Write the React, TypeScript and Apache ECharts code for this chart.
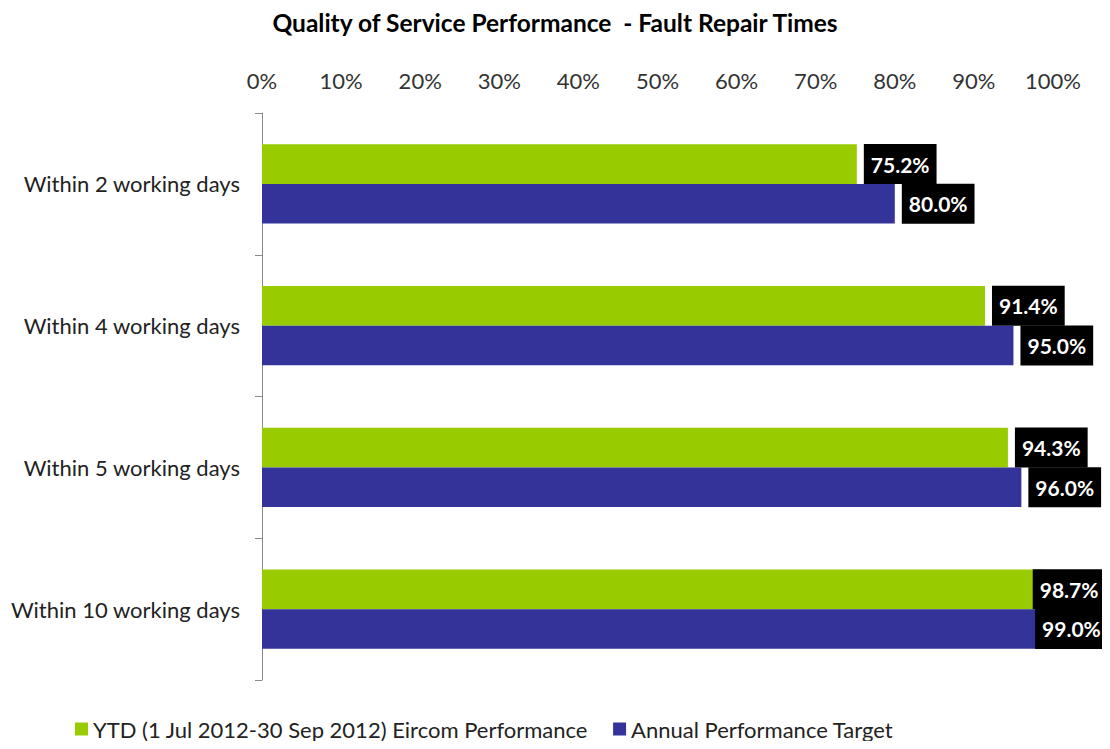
import React, { useEffect, useRef } from "react";
import * as echarts from "echarts";

const categories = [
  "Within 2 working days",
  "Within 4 working days",
  "Within 5 working days",
  "Within 10 working days",
];
const ytdValues = [75.2, 91.4, 94.3, 98.7];
const targetValues = [80.0, 95.0, 96.0, 99.0];
const seriesNames = [
  "YTD (1 Jul 2012-30 Sep 2012) Eircom Performance",
  "Annual Performance Target",
];
const titleText = "Quality of Service Performance  - Fault Repair Times";

const FONT = "Lato, 'Open Sans', sans-serif";

function labelFor(values: number[]) {
  return values.map((v) => ({
    value: v,
    label: v > 98 ? { offset: [-17, 0] } : {},
  }));
}

export default function App() {
  const ref = useRef<HTMLDivElement>(null);
  useEffect(() => {
    if (!ref.current) return;
    const chart = echarts.init(ref.current, null, { renderer: "svg" });
    const baseLabel = {
      show: true,
      position: "right",
      distance: 7,
      formatter: (p: any) => p.value.toFixed(1) + "%",
      color: "#ffffff",
      fontWeight: "bold",
      fontSize: 21,
      fontFamily: FONT,
      backgroundColor: "#000000",
      padding: [10, 7, 10, 7],
      lineHeight: 20,
    };
    chart.setOption({
      animation: false,
      title: {
        text: titleText,
        left: "center",
        top: 5,
        textStyle: {
          fontFamily: FONT,
          fontWeight: "bold",
          fontSize: 24.5,
          color: "#000000",
        },
      },
      legend: {
        bottom: 4,
        left: 70,
        icon: "rect",
        itemWidth: 13,
        itemHeight: 13,
        itemGap: 25,
        textStyle: { fontFamily: FONT, fontSize: 22, color: "#222222" },
        data: seriesNames,
      },
      grid: { left: 262, right: 57, top: 113, bottom: 69 },
      xAxis: {
        type: "value",
        position: "top",
        min: 0,
        max: 100,
        interval: 10,
        axisLabel: {
          formatter: "{value}%",
          fontFamily: FONT,
          fontSize: 22,
          color: "#333333",
          margin: 22,
        },
        axisLine: { show: false },
        axisTick: { show: false },
        splitLine: { show: false },
      },
      yAxis: {
        type: "category",
        inverse: true,
        data: categories,
        axisLine: { show: true, lineStyle: { color: "#8a8a8a", width: 1 } },
        axisTick: { show: true, length: 7, lineStyle: { color: "#8a8a8a" } },
        axisLabel: {
          fontFamily: FONT,
          fontSize: 22,
          color: "#222222",
          margin: 22,
        },
      },
      series: [
        {
          name: seriesNames[0],
          type: "bar",
          data: labelFor(ytdValues),
          itemStyle: { color: "#99cc00" },
          barGap: "0%",
          barCategoryGap: "44%",
          label: baseLabel,
        },
        {
          name: seriesNames[1],
          type: "bar",
          data: labelFor(targetValues),
          itemStyle: { color: "#333399" },
          barGap: "0%",
          barCategoryGap: "44%",
          label: baseLabel,
        },
      ],
    });
    return () => chart.dispose();
  }, []);
  return <div ref={ref} style={{ width: 1110, height: 749, margin: -8 }} />;
}
